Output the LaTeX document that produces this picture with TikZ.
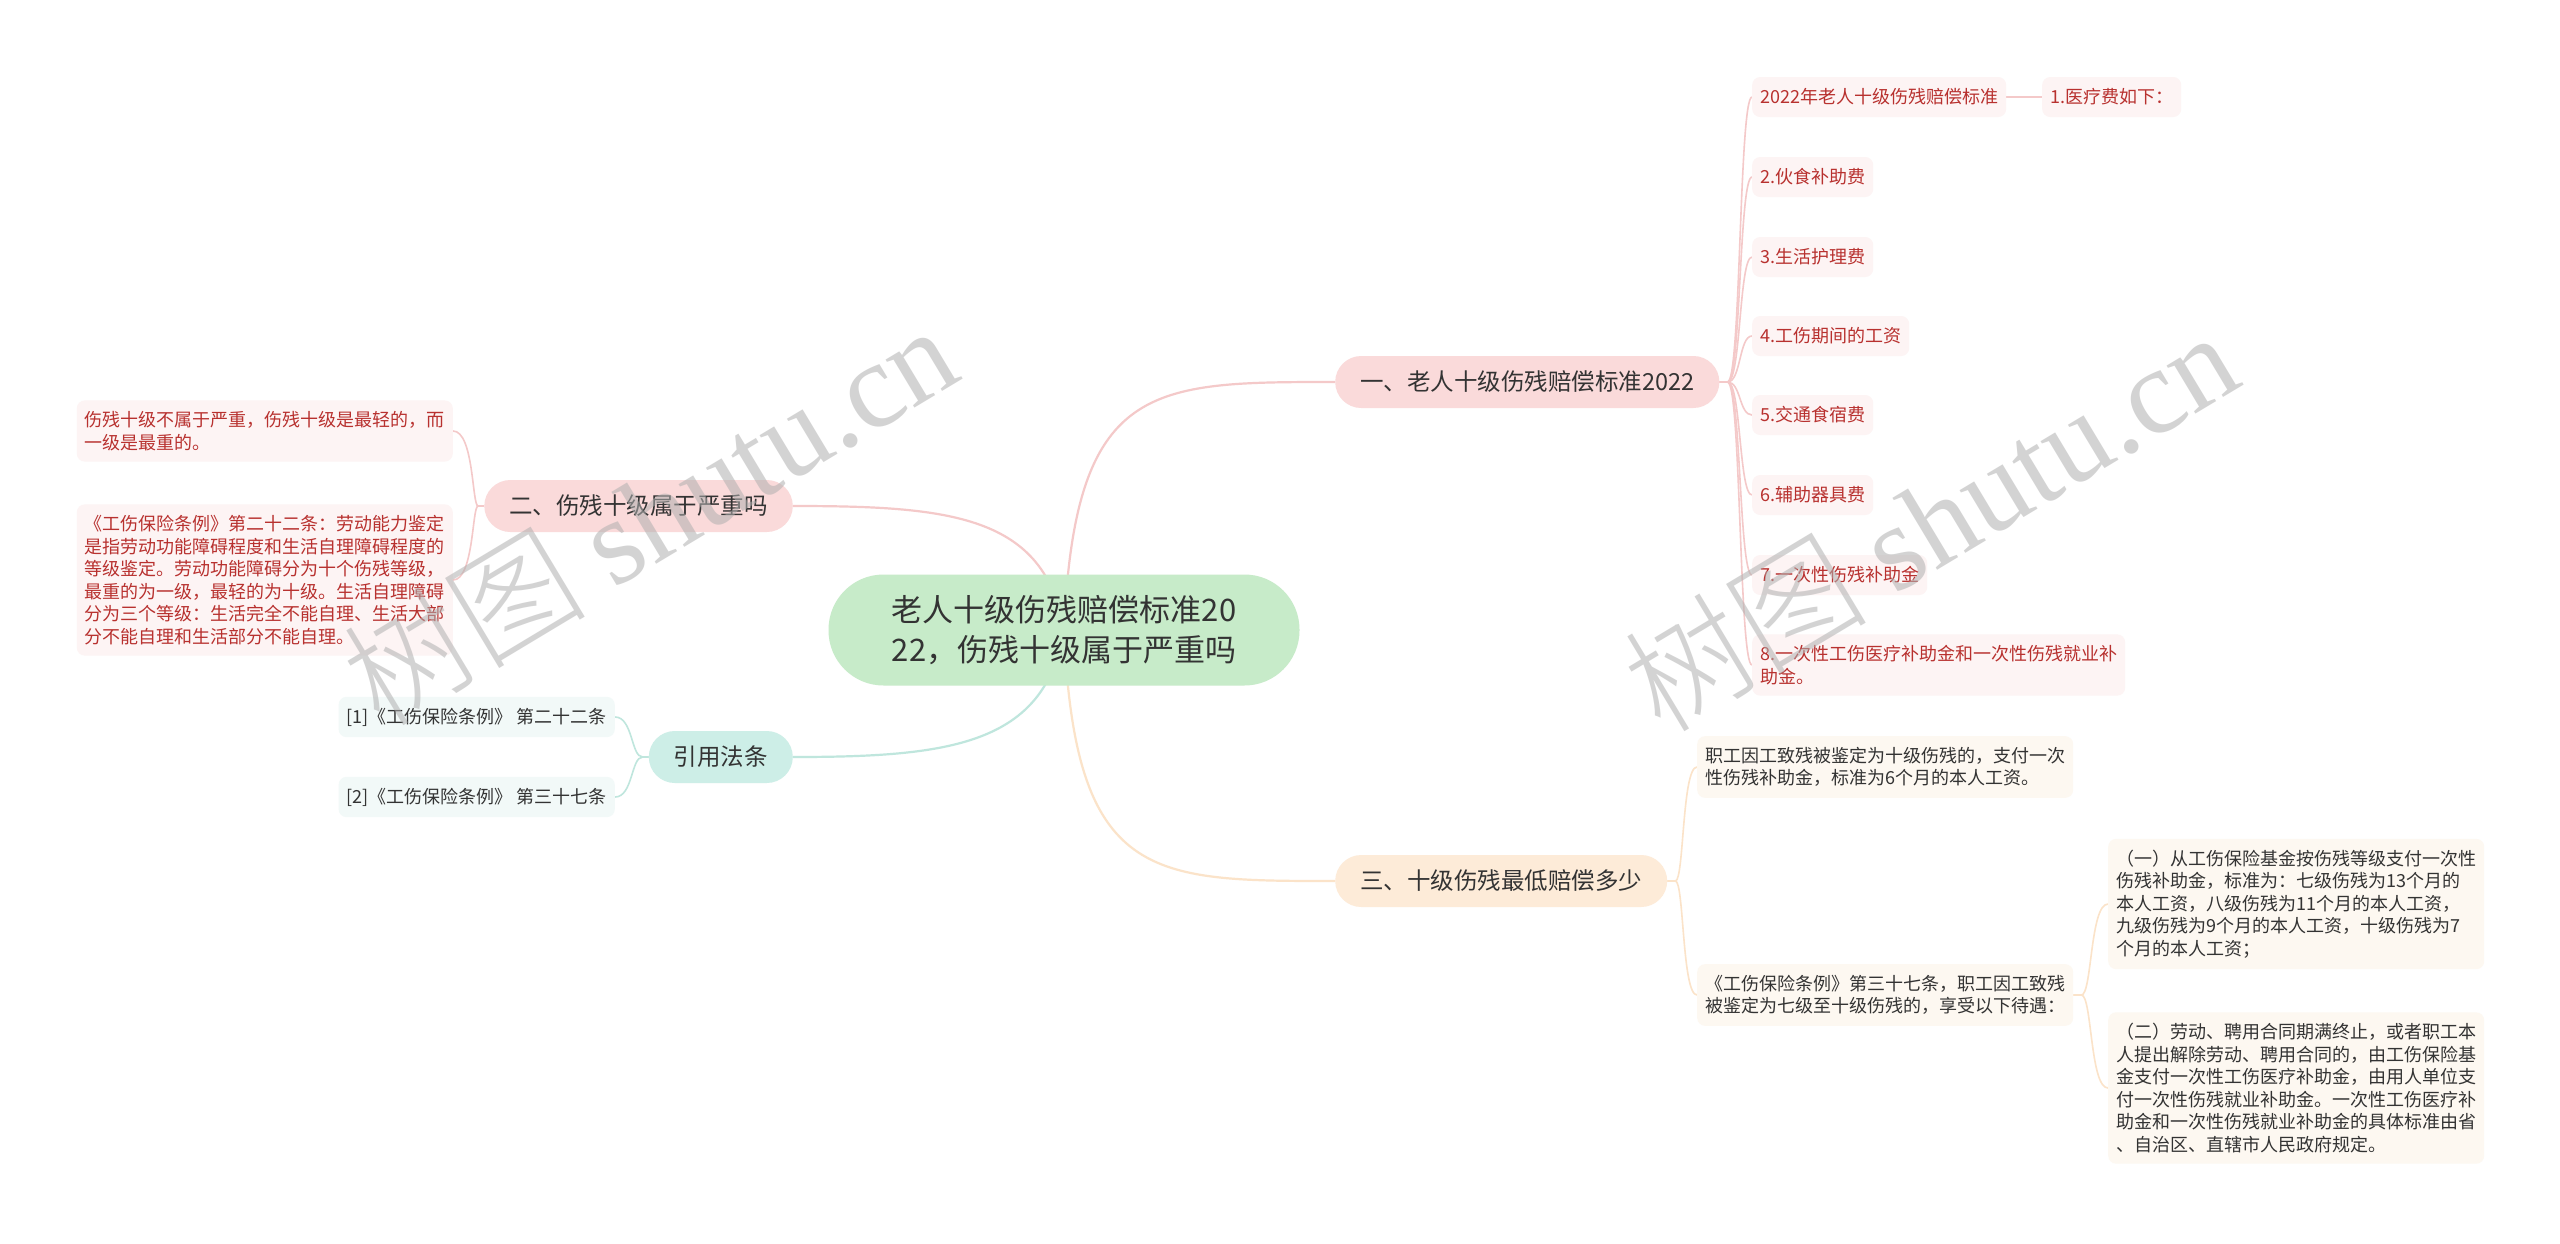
\documentclass[tikz,border=0pt]{standalone}
\usepackage{fontspec}
\setmainfont{Noto Sans CJK SC}
\newfontfamily\wmserif{Liberation Serif}
\newfontfamily\wmcjk{Noto Sans CJK SC Light}
\usetikzlibrary{calc}
\definecolor{textdark}{HTML}{333333}
\definecolor{tred}{HTML}{B8312F}
\definecolor{cgreen}{HTML}{C7EBC9}
\definecolor{bpink}{HTML}{FADADA}
\definecolor{bpeach}{HTML}{FDEBD8}
\definecolor{bteal}{HTML}{CDEEE7}
\definecolor{lpink}{HTML}{FDF4F4}
\definecolor{lteal}{HTML}{F2F9F8}
\definecolor{lpeach}{HTML}{FDF8F1}
\definecolor{linepink}{HTML}{F4C9C9}
\definecolor{linepeach}{HTML}{FBE3C9}
\definecolor{lineteal}{HTML}{BFE6DD}
\definecolor{wmgray}{HTML}{B0B0B0}
\pgfdeclarelayer{bg}
\pgfsetlayers{bg,main}
\tikzset{
  centernode/.style={fill=cgreen, rounded corners=55pt, minimum height=111pt, minimum width=471pt, align=center, text=textdark, font=\fontsize{31}{40}\selectfont},
  branchbox/.style={rounded corners=26pt, minimum height=52pt, inner xsep=25pt, text=textdark, font=\fontsize{23.5}{28}\selectfont},
  leafbox/.style={rounded corners=8pt, inner xsep=8pt, inner ysep=11pt, minimum height=40pt, align=left, font=\fontsize{18}{22.5}\selectfont},
  leafred/.style={leafbox, fill=lpink, text=tred},
  leafteal/.style={leafbox, fill=lteal, text=textdark},
  leafpeach/.style={leafbox, fill=lpeach, text=textdark},
  mainline/.style={line width=2.2pt},
  subline/.style={line width=1.6pt},
  watermark/.style={rotate=31, text=wmgray, opacity=0.55, font=\fontsize{122}{130}\selectfont}
}
\begin{document}
\begin{tikzpicture}[x=1pt,y=-1pt]
\useasboundingbox (0,0) rectangle (2560,1243);

% center
\node[centernode] (c) at (1064,630) {老人十级伤残赔偿标准20\\22，伤残十级属于严重吗};

% branches
\node[branchbox, fill=bpink, anchor=west] (b1) at (1335,382) {一、老人十级伤残赔偿标准2022};
\node[branchbox, fill=bpink, anchor=east] (b2) at (793,506) {二、伤残十级属于严重吗};
\node[branchbox, fill=bteal, anchor=east] (b4) at (793,757) {引用法条};
\node[branchbox, fill=bpeach, anchor=west] (b3) at (1335,881) {三、十级伤残最低赔偿多少};

% branch 1 leaves
\node[leafred, anchor=west] (r1) at (1752,97) {2022年老人十级伤残赔偿标准};
\node[leafred, anchor=west] (r1a) at (2042,97) {1.医疗费如下：};
\node[leafred, anchor=west] (r2) at (1752,177) {2.伙食补助费};
\node[leafred, anchor=west] (r3) at (1752,257) {3.生活护理费};
\node[leafred, anchor=west] (r4) at (1752,336) {4.工伤期间的工资};
\node[leafred, anchor=west] (r5) at (1752,415) {5.交通食宿费};
\node[leafred, anchor=west] (r6) at (1752,495) {6.辅助器具费};
\node[leafred, anchor=west] (r7) at (1752,575) {7.一次性伤残补助金};
\node[leafred, anchor=west] (r8) at (1752,665) {8.一次性工伤医疗补助金和一次性伤残就业补\\助金。};

% branch 2 leaves
\node[leafred, anchor=east] (l1) at (453,431) {伤残十级不属于严重，伤残十级是最轻的，而\\一级是最重的。};
\node[leafred, anchor=east] (l2) at (453,580) {《工伤保险条例》第二十二条：劳动能力鉴定\\是指劳动功能障碍程度和生活自理障碍程度的\\等级鉴定。劳动功能障碍分为十个伤残等级，\\最重的为一级，最轻的为十级。生活自理障碍\\分为三个等级：生活完全不能自理、生活大部\\分不能自理和生活部分不能自理。};

% citation leaves
\node[leafteal, anchor=east] (q1) at (615,717) {[1]《工伤保险条例》 第二十二条};
\node[leafteal, anchor=east] (q2) at (615,797) {[2]《工伤保险条例》 第三十七条};

% branch 3 leaves
\node[leafpeach, anchor=west] (s1) at (1697,767) {职工因工致残被鉴定为十级伤残的，支付一次\\性伤残补助金，标准为6个月的本人工资。};
\node[leafpeach, anchor=west] (s2) at (1697,995) {《工伤保险条例》第三十七条，职工因工致残\\被鉴定为七级至十级伤残的，享受以下待遇：};
\node[leafpeach, anchor=west] (t1) at (2108,904) {（一）从工伤保险基金按伤残等级支付一次性\\伤残补助金，标准为：七级伤残为13个月的\\本人工资，八级伤残为11个月的本人工资，\\九级伤残为9个月的本人工资，十级伤残为7\\个月的本人工资；};
\node[leafpeach, anchor=west] (t2) at (2108,1088) {（二）劳动、聘用合同期满终止，或者职工本\\人提出解除劳动、聘用合同的，由工伤保险基\\金支付一次性工伤医疗补助金，由用人单位支\\付一次性伤残就业补助金。一次性工伤医疗补\\助金和一次性伤残就业补助金的具体标准由省\\、自治区、直辖市人民政府规定。};

\begin{pgfonlayer}{bg}
  \fill[white] (0,0) rectangle (2560,1243);
  % center to branches
  \draw[mainline, linepink] (c.center) .. controls (1075,382) and (1150,382) .. (b1.west);
  \draw[mainline, linepink] (c.center) .. controls (1045,515) and (950,506) .. (b2.east);
  \draw[mainline, lineteal] (c.center) .. controls (1045,745) and (950,757) .. (b4.east);
  \draw[mainline, linepeach] (c.center) .. controls (1075,881) and (1150,881) .. (b3.west);
  % branch 1 fan
  \foreach \n in {r1,r2,r3,r4,r5,r6,r7,r8}{
    \draw[subline, linepink] (b1.east) -- ++(8,0) .. controls (1741,382) and (1739,0 |- \n.west) .. (\n.west);
  }
  \draw[subline, linepink] (r1.east) -- (r1a.west);
  % branch 2 fan
  \foreach \n in {l1,l2}{
    \draw[subline, linepink] (b2.west) -- ++(-6,0) .. controls (472,506) and (474,0 |- \n.east) .. (\n.east);
  }
  % citation fan
  \foreach \n in {q1,q2}{
    \draw[subline, lineteal] (b4.west) -- ++(-6,0) .. controls (631,757) and (633,0 |- \n.east) .. (\n.east);
  }
  % branch 3 fan
  \foreach \n in {s1,s2}{
    \draw[subline, linepeach] (b3.east) -- ++(8,0) .. controls (1684,881) and (1682,0 |- \n.west) .. (\n.west);
  }
  \foreach \n in {t1,t2}{
    \draw[subline, linepeach] (s2.east) -- ++(8,0) .. controls (2092,995) and (2090,0 |- \n.west) .. (\n.west);
  }
\end{pgfonlayer}

% watermarks
\node[watermark] (wm1) at (649,514) {{\wmcjk 树图} {\wmserif shutu.cn}};
\node[watermark] (wm2) at (1930,520) {{\wmcjk 树图} {\wmserif shutu.cn}};
\end{tikzpicture}
\end{document}
